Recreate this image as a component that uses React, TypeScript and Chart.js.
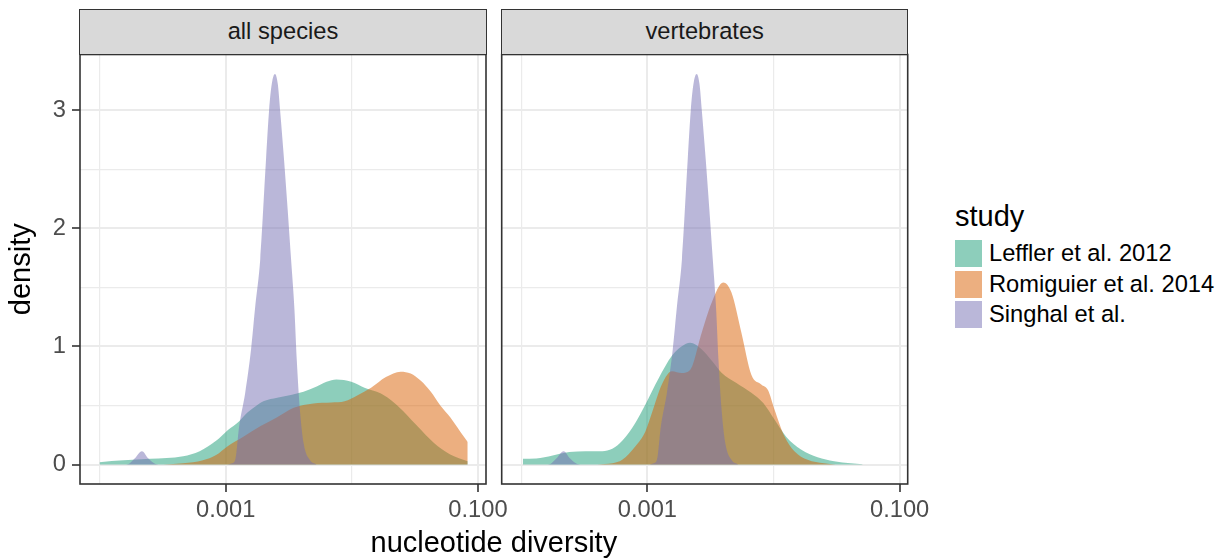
import React, { useEffect, useRef } from 'react';
import { Chart, registerables } from 'chart.js';

Chart.register(...registerables);

const FONT = '"Liberation Sans", Arial, Helvetica, sans-serif';
const SMALL = 23.7;

const facets = ['all species', 'vertebrates'];
const studies = ['Leffler et al. 2012', 'Romiguier et al. 2014', 'Singhal et al.'];
const studyColors = ['rgba(27,158,119,0.5)', 'rgba(217,95,2,0.5)', 'rgba(117,112,179,0.5)'];

const xTickValues = [0.0001, 0.001, 0.01, 0.1];
const xTickLabels = ['', '0.001', '', '0.100'];
const xTickMajor = [false, true, false, true];
const yTickValues = [0, 0.5, 1, 1.5, 2, 2.5, 3];
const yTickLabels = ['0', '', '1', '', '2', '', '3'];
const yTickMajor = [true, false, true, false, true, false, true];

// Singhal et al. (same curve in both facets)
const singhalDiversity = [1.556e-4, 1.702e-4, 1.897e-4, 2.168e-4, 2.443e-4, 2.773e-4, 3.09e-4, 1.04e-3, 1.12e-3, 1.19e-3, 1.28e-3, 1.43e-3, 1.59e-3, 1.72e-3, 1.88e-3, 2.09e-3, 2.21e-3, 2.32e-3, 2.46e-3, 2.59e-3, 2.70e-3, 2.90e-3, 3.10e-3, 3.30e-3, 3.51e-3, 3.66e-3, 3.88e-3, 4.15e-3, 4.64e-3, 5.25e-3];
const singhalDensity = [0, 0.005, 0.05, 0.113, 0.05, 0.005, 0, 0, 0.01, 0.04, 0.325, 0.61, 0.975, 1.35, 1.737, 2.585, 3.0, 3.22, 3.305, 3.22, 3.0, 2.585, 2.16, 1.737, 1.31, 0.89, 0.46, 0.18, 0.04, 0];

// all species
const lefflerAllDiversity = [1.0e-4, 1.556e-4, 2.523e-4, 4.6e-4, 6.22e-4, 8.39e-4, 1.037e-3, 1.281e-3, 1.488e-3, 1.728e-3, 2.012e-3, 2.558e-3, 3.354e-3, 4.143e-3, 5.27e-3, 6.31e-3, 7.555e-3, 9.908e-3, 1.26e-2, 1.703e-2, 2.166e-2, 2.676e-2, 3.305e-2, 4.461e-2, 6.031e-2, 8.3e-2];
const lefflerAllDensity = [0.02, 0.035, 0.048, 0.07, 0.113, 0.2, 0.29, 0.367, 0.44, 0.494, 0.537, 0.565, 0.59, 0.615, 0.66, 0.70, 0.72, 0.70, 0.65, 0.60, 0.523, 0.43, 0.325, 0.184, 0.085, 0.028];

const romiguierAllDiversity = [3.206e-4, 4.6e-4, 6.6e-4, 8.39e-4, 1.037e-3, 1.359e-3, 1.892e-3, 2.558e-3, 3.458e-3, 4.962e-3, 6.905e-3, 8.78e-3, 1.104e-2, 1.422e-2, 1.865e-2, 2.444e-2, 2.929e-2, 3.509e-2, 4.202e-2, 5.035e-2, 6.031e-2, 7.225e-2, 8.3e-2];
const romiguierAllDensity = [0, 0.01, 0.035, 0.08, 0.155, 0.23, 0.325, 0.4, 0.48, 0.517, 0.525, 0.535, 0.585, 0.65, 0.74, 0.786, 0.77, 0.71, 0.62, 0.5, 0.4, 0.28, 0.19];

// vertebrates
const lefflerVertDiversity = [1.031e-4, 1.313e-4, 1.777e-4, 2.405e-4, 3.249e-4, 4.398e-4, 5.272e-4, 6.32e-4, 8.044e-4, 9.645e-4, 1.23e-3, 1.565e-3, 1.876e-3, 2.181e-3, 2.696e-3, 3.232e-3, 3.874e-3, 5.084e-3, 6.673e-3, 8.296e-3, 1.018e-2, 1.259e-2, 1.652e-2, 2.237e-2, 3.022e-2, 4.091e-2, 5.085e-2];
const lefflerVertDensity = [0.048, 0.05, 0.076, 0.105, 0.113, 0.113, 0.133, 0.2, 0.353, 0.508, 0.73, 0.92, 1.0, 1.03, 0.975, 0.88, 0.777, 0.69, 0.607, 0.52, 0.38, 0.235, 0.127, 0.062, 0.028, 0.01, 0.002];

const romiguierVertDiversity = [4.017e-4, 5.272e-4, 6.32e-4, 8.044e-4, 9.645e-4, 1.089e-3, 1.305e-3, 1.565e-3, 1.876e-3, 2.181e-3, 2.696e-3, 3.232e-3, 3.996e-3, 4.644e-3, 5.567e-3, 6.673e-3, 8.0e-3, 9.035e-3, 1.018e-2, 1.221e-2, 1.464e-2, 1.866e-2, 2.521e-2, 3.117e-2];
const romiguierVertDensity = [0, 0.01, 0.04, 0.155, 0.28, 0.44, 0.68, 0.79, 0.775, 0.80, 1.116, 1.37, 1.54, 1.455, 1.116, 0.76, 0.678, 0.63, 0.466, 0.24, 0.113, 0.04, 0.01, 0];

const toPoints = (xs: number[], ys: number[]) => xs.map((x, i) => ({ x, y: ys[i] }));

const X_MIN = Math.pow(10, -4.132);
const X_MAX = Math.pow(10, -0.936);
const Y_MIN = -0.165;
const Y_MAX = 3.47;

const panelBorder = {
  id: 'panelBorder',
  afterDraw(chart: any) {
    const { ctx, chartArea } = chart;
    ctx.save();
    ctx.strokeStyle = '#333333';
    ctx.lineWidth = 1.6;
    ctx.strokeRect(chartArea.left, chartArea.top, chartArea.right - chartArea.left, chartArea.bottom - chartArea.top);
    ctx.restore();
  },
};

function makeDatasets(series: { x: number[]; y: number[] }[]) {
  return series.map((s, i) => ({
    label: studies[i],
    data: toPoints(s.x, s.y),
    backgroundColor: studyColors[i],
    borderWidth: 0,
    borderColor: 'rgba(0,0,0,0)',
    pointRadius: 0,
    fill: 'origin',
    cubicInterpolationMode: 'monotone' as const,
    order: 3 - i,
  }));
}

function makeConfig(datasets: any[], showY: boolean, yWidth: number, rightPad: number): any {
  return {
    type: 'line',
    data: { datasets },
    options: {
      animation: false,
      responsive: false,
      events: [],
      layout: { padding: { left: 0, right: rightPad, top: 54.5, bottom: 0 } },
      plugins: { legend: { display: false }, tooltip: { enabled: false }, title: { display: false } },
      scales: {
        x: {
          type: 'logarithmic',
          min: X_MIN,
          max: X_MAX,
          afterBuildTicks: (scale: any) => {
            scale.ticks = xTickValues.map((v) => ({ value: v }));
          },
          afterFit: (scale: any) => {
            scale.height = 75;
          },
          ticks: {
            autoSkip: false,
            maxRotation: 0,
            minRotation: 0,
            padding: 4,
            color: '#4D4D4D',
            font: { family: FONT, size: SMALL },
            callback: (_v: any, i: number) => xTickLabels[i],
          },
          grid: {
            color: '#EBEBEB',
            lineWidth: (c: any) => (xTickMajor[c.index] ? 2 : 1.2),
            tickColor: (c: any) => (xTickMajor[c.index] ? '#333333' : 'rgba(0,0,0,0)'),
            tickWidth: 1.6,
            tickLength: 8,
            drawTicks: true,
          },
          border: { display: false },
        },
        y: {
          type: 'linear',
          min: Y_MIN,
          max: Y_MAX,
          afterBuildTicks: (scale: any) => {
            scale.ticks = yTickValues.map((v) => ({ value: v }));
          },
          afterFit: (scale: any) => {
            scale.width = yWidth;
          },
          title: {
            display: showY,
            text: 'density',
            color: '#000000',
            font: { family: FONT, size: 29 },
            padding: { top: 5, bottom: 0 },
          },
          ticks: {
            display: showY,
            autoSkip: false,
            padding: 6,
            color: '#4D4D4D',
            font: { family: FONT, size: SMALL },
            callback: (_v: any, i: number) => yTickLabels[i],
          },
          grid: {
            color: '#EBEBEB',
            lineWidth: (c: any) => (yTickMajor[c.index] ? 2 : 1.2),
            tickColor: (c: any) => (showY && yTickMajor[c.index] ? '#333333' : 'rgba(0,0,0,0)'),
            tickWidth: 1.6,
            tickLength: 8,
            drawTicks: showY,
          },
          border: { display: false },
        },
      },
    },
    plugins: [panelBorder],
  };
}

const stripStyle = (left: number): React.CSSProperties => ({
  position: 'absolute',
  left: left - 0.8,
  top: 8.5,
  width: 407.6,
  height: 46.8,
  boxSizing: 'border-box',
  border: '1.6px solid #333333',
  background: '#D9D9D9',
  color: '#1A1A1A',
  fontFamily: FONT,
  fontSize: SMALL,
  lineHeight: '43.6px',
  textAlign: 'center',
});

export default function App() {
  const ref1 = useRef<HTMLCanvasElement>(null);
  const ref2 = useRef<HTMLCanvasElement>(null);

  useEffect(() => {
    const ds1 = makeDatasets([
      { x: lefflerAllDiversity, y: lefflerAllDensity },
      { x: romiguierAllDiversity, y: romiguierAllDensity },
      { x: singhalDiversity, y: singhalDensity },
    ]);
    const ds2 = makeDatasets([
      { x: lefflerVertDiversity, y: lefflerVertDensity },
      { x: romiguierVertDiversity, y: romiguierVertDensity },
      { x: singhalDiversity, y: singhalDensity },
    ]);
    const c1 = new Chart(ref1.current as HTMLCanvasElement, makeConfig(ds1, true, 80, 34));
    const c2 = new Chart(ref2.current as HTMLCanvasElement, makeConfig(ds2, false, 11.7, 32.3));
    return () => {
      c1.destroy();
      c2.destroy();
    };
  }, []);

  return (
    <div style={{ position: 'absolute', left: 0, top: 0, width: 1224, height: 559, background: '#FFFFFF', overflow: 'hidden' }}>
      <canvas ref={ref1} width={520} height={559} style={{ position: 'absolute', left: 0, top: 0 }} />
      <canvas ref={ref2} width={450} height={559} style={{ position: 'absolute', left: 490, top: 0 }} />
      <div style={stripStyle(80)}>{facets[0]}</div>
      <div style={stripStyle(501.7)}>{facets[1]}</div>
      <div
        style={{
          position: 'absolute',
          left: 80,
          top: 525,
          width: 827.7,
          textAlign: 'center',
          fontFamily: FONT,
          fontSize: 29,
          lineHeight: '34px',
          color: '#000000',
        }}
      >
        nucleotide diversity
      </div>
      <div style={{ position: 'absolute', left: 955, top: 199, fontFamily: FONT, fontSize: 29, lineHeight: '34px', color: '#000' }}>study</div>
      {studies.map((s, i) => (
        <React.Fragment key={s}>
          <div
            style={{
              position: 'absolute',
              left: 955,
              top: 240 + i * 30.5,
              width: 27,
              height: 27,
              background: studyColors[i],
            }}
          />
          <div
            style={{
              position: 'absolute',
              left: 989,
              top: 240 + i * 30.5,
              height: 27,
              lineHeight: '27px',
              fontFamily: FONT,
              fontSize: SMALL,
              color: '#000',
              whiteSpace: 'nowrap',
            }}
          >
            {s}
          </div>
        </React.Fragment>
      ))}
    </div>
  );
}
